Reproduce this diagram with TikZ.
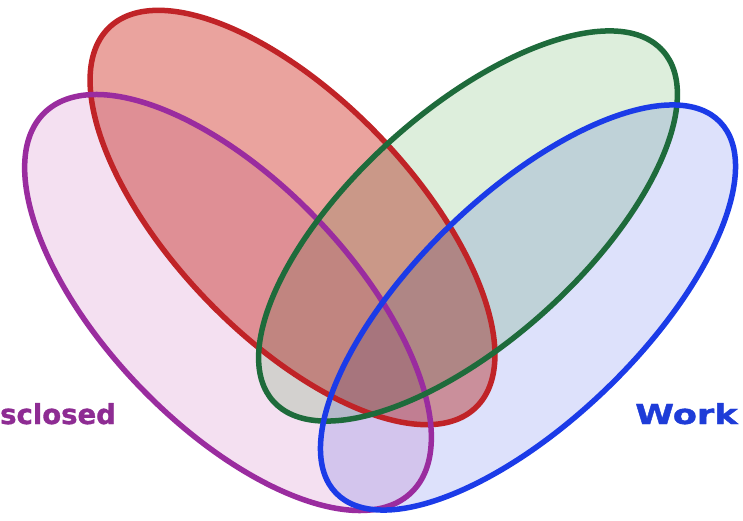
\documentclass[tikz,border=0pt]{standalone}
\usepackage{fontspec}
\setmainfont{DejaVu Sans}[BoldFeatures={FakeBold=1.2}]
\usepackage{graphicx}
\definecolor{redline}{HTML}{C02327}
\definecolor{redfill}{HTML}{EAA39E}
\definecolor{purpleline}{HTML}{9A2C9F}
\definecolor{purplefill}{HTML}{F4E0F1}
\definecolor{greenline}{HTML}{1E6B3B}
\definecolor{greenfill}{HTML}{DDEEDC}
\definecolor{blueline}{HTML}{1B3BE8}
\definecolor{bluefill}{HTML}{DDE1FB}
\definecolor{purpletext}{HTML}{8E2C93}
\definecolor{bluetext}{HTML}{1E3CD8}
\begin{document}
\begin{tikzpicture}[x=1pt,y=1pt,
  setfill/.style={blend mode=multiply},
  ring/.style={line width=5.5pt},
  lbl/.style={anchor=base west, inner sep=0pt, font=\fontsize{27.5}{30}\selectfont\bfseries}]
\useasboundingbox (0,0) rectangle (743,520);
\fill[white] (0,0) rectangle (743,520);
% fills
\fill[redfill, setfill, shift={(292.5,302.5)}, rotate=-46] (0,0) ellipse [x radius=264pt, y radius=119pt];
\fill[purplefill, setfill, shift={(228,217.5)}, rotate=-46] (0,0) ellipse [x radius=264pt, y radius=122pt];
\fill[greenfill, setfill, shift={(468,294)}, rotate=42] (0,0) ellipse [x radius=262pt, y radius=115pt];
\fill[bluefill, setfill, shift={(528,212.5)}, rotate=44] (0,0) ellipse [x radius=267pt, y radius=113pt];
% outlines
\draw[redline, ring, shift={(292.5,302.5)}, rotate=-46] (0,0) ellipse [x radius=264pt, y radius=119pt];
\draw[purpleline, ring, shift={(228,217.5)}, rotate=-46] (0,0) ellipse [x radius=264pt, y radius=122pt];
\draw[greenline, ring, shift={(468,294)}, rotate=42] (0,0) ellipse [x radius=262pt, y radius=115pt];
\draw[blueline, ring, shift={(528,212.5)}, rotate=44] (0,0) ellipse [x radius=267pt, y radius=113pt];
% labels
\node[lbl, text=purpletext] (disclosed) at (0,96) {sclosed};
\node[lbl, text=bluetext] (work) at (635,96) {\scalebox{1.28}[1]{Work}};
\end{tikzpicture}
\end{document}
